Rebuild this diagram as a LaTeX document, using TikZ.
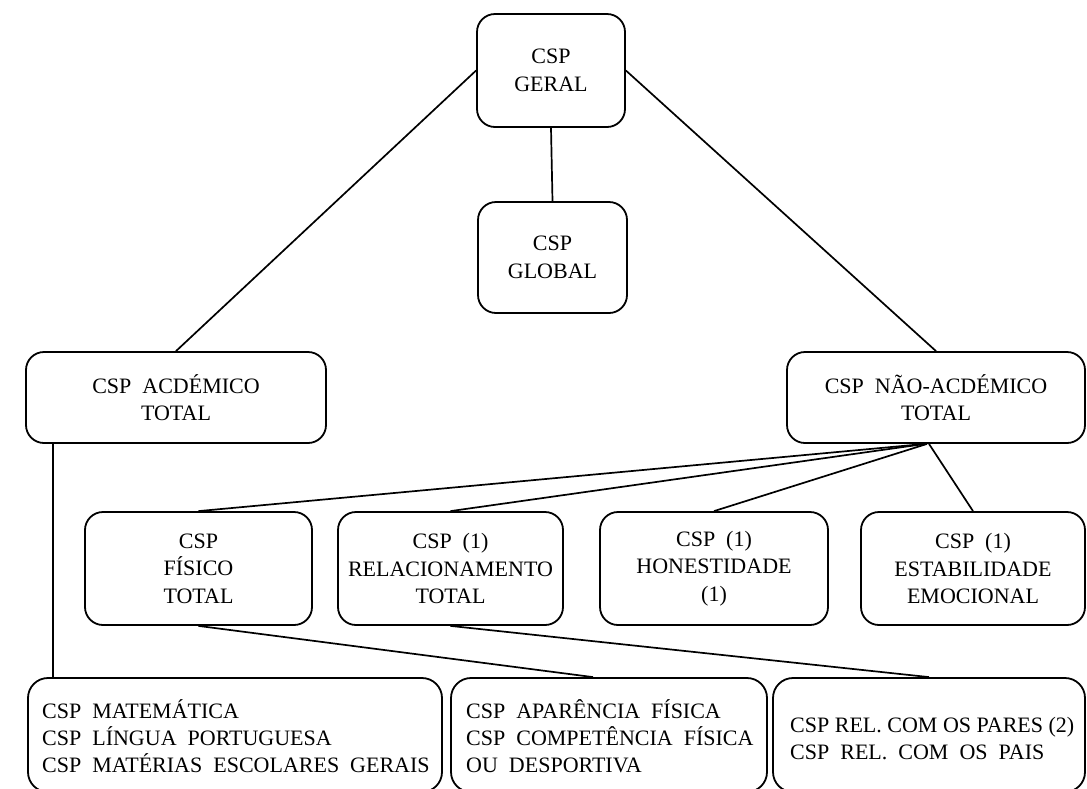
\documentclass[tikz,border=0pt]{standalone}
\usepackage{fontspec}
\setmainfont{Liberation Serif}
\begin{document}
\begin{tikzpicture}[x=1pt,y=-1pt,
  box/.style={draw, line width=1.8pt, rounded corners=18pt, inner sep=0pt, align=center,
    font=\fontsize{22}{27.5}\selectfont},
  ltext/.style={anchor=north west, inner sep=0pt, align=left,
    font=\fontsize{22}{27}\selectfont},
  link/.style={line width=1.7pt}]
\useasboundingbox (0,0) rectangle (1087,788);
\clip (0,0) rectangle (1087,788);
\fill[white] (0,0) rectangle (1087,788);
% top
\node[box, minimum width=148pt, minimum height=113pt] (geral) at (551,70.5) {CSP\\GERAL};
\node[box, minimum width=149pt, minimum height=111pt] (global) at (552.5,257.5) {CSP\\GLOBAL};
% second level
\node[box, minimum width=300pt, minimum height=91pt] (acd) at (176,397.5) {CSP\ \ ACDÉMICO\\TOTAL};
\node[box, minimum width=298pt, minimum height=91pt] (nao) at (936,397.5) {CSP\ \ NÃO-ACDÉMICO\\TOTAL};
% third level
\node[box, minimum width=227pt, minimum height=113pt] (fis) at (198.5,568.5) {CSP\\FÍSICO\\TOTAL};
\node[box, minimum width=225pt, minimum height=113pt] (relt) at (450.5,568.5) {CSP\ \ (1)\\RELACIONAMENTO\\TOTAL};
\node[box, minimum width=228pt, minimum height=113pt] (hon) at (714,568.5) {CSP\ \ (1)\\HONESTIDADE\\(1)};
\node[box, minimum width=224pt, minimum height=113pt] (est) at (973,568.5) {CSP\ \ (1)\\ESTABILIDADE\\EMOCIONAL};
% bottom
\node[box, rounded corners=20pt, minimum width=414pt, minimum height=114pt] (mat) at (235,735) {};
\node[box, rounded corners=20pt, minimum width=316pt, minimum height=114pt] (apar) at (609,735) {};
\node[box, rounded corners=20pt, minimum width=312pt, minimum height=114pt] (relp) at (929,735) {};
\node[ltext] (matt) at (42,699) {CSP\ \ MATEMÁTICA\\CSP\ \ LÍNGUA\ \ PORTUGUESA\\CSP\ \ MATÉRIAS\ \ ESCOLARES\ \ GERAIS};
\node[ltext] (apart) at (466,699) {CSP\ \ APARÊNCIA\ \ FÍSICA\\CSP\ \ COMPETÊNCIA\ \ FÍSICA\\OU\ \ DESPORTIVA};
\node[ltext] (relpt) at (790,717) {CSP REL. COM OS PARES (2)\\CSP\ \ REL.\ \ COM\ \ OS\ \ PAIS};
% connectors
\draw[link] (geral.south) -- (global.north);
\draw[link] (geral.west) -- (acd.north);
\draw[link] (geral.east) -- (nao.north);
\draw[link] ([xshift=-11pt]nao.south) -- (fis.north);
\draw[link] ([xshift=-11pt]nao.south) -- (relt.north);
\draw[link] ([xshift=-9pt]nao.south) -- (hon.north);
\draw[link] ([xshift=-7pt]nao.south) -- (est.north);
\draw[link] (fis.south) -- ([xshift=-16pt]apar.north);
\draw[link] (relt.south) -- (relp.north);
\draw[link] ([xshift=28pt]acd.south west) -- ([xshift=28pt]acd.south west |- mat.north);
\end{tikzpicture}
\end{document}
